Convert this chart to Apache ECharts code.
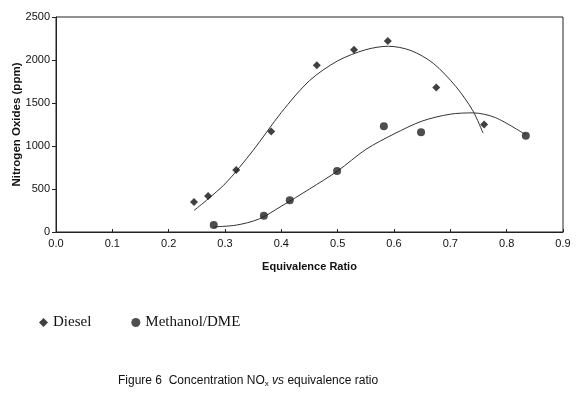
<!DOCTYPE html>
<html>
<head>
    <meta charset="utf-8"/>
    <script src="https://cdn.jsdelivr.net/npm/echarts@6/dist/echarts.min.js"></script>
</head>
<body style="margin:0;background:#fff;">
<div id="main" style="width: 580px;height:394px;"></div>
<script type="text/javascript">
    // measured points
    var dieselX = [0.245, 0.270, 0.320, 0.382, 0.463, 0.529, 0.589, 0.675, 0.760];
    var dieselY = [350, 420, 720, 1170, 1940, 2120, 2220, 1680, 1250];
    var methX = [0.280, 0.369, 0.415, 0.499, 0.582, 0.648, 0.834];
    var methY = [80, 190, 370, 710, 1230, 1160, 1120];

    // trend curves
    var dieselFitX = [0.245, 0.300, 0.350, 0.400, 0.450, 0.500, 0.550, 0.590, 0.630, 0.670, 0.710, 0.740, 0.758];
    var dieselFitY = [250, 560, 950, 1390, 1760, 1990, 2120, 2160, 2110, 1960, 1690, 1410, 1150];
    var methFitX = [0.280, 0.320, 0.360, 0.400, 0.450, 0.500, 0.550, 0.600, 0.650, 0.700, 0.740, 0.780, 0.834];
    var methFitY = [60, 80, 150, 300, 500, 710, 960, 1140, 1290, 1370, 1385, 1330, 1130];

    var xTicks = ['0.0', '0.1', '0.2', '0.3', '0.4', '0.5', '0.6', '0.7', '0.8', '0.9'];

    function pairs(xs, ys) {
        var out = [];
        for (var i = 0; i < xs.length; i++) {
            out.push([xs[i], ys[i]]);
        }
        return out;
    }

    var myChart = echarts.init(document.getElementById('main'));

    var option = {
        backgroundColor: '#fff',
        animation: false,
        textStyle: {fontFamily: 'Liberation Sans', color: '#111'},
        grid: {
            left: 56, right: 17, top: 17, bottom: 162,
            outerBoundsMode: 'none',
            containLabel: false,
            show: true, borderColor: '#222', borderWidth: 1
        },
        legend: {
            left: 34, top: 310,
            itemGap: 40,
            itemWidth: 9, itemHeight: 9,
            data: [
                {name: 'Diesel', icon: 'diamond'},
                {name: 'Methanol/DME', icon: 'circle'}
            ],
            textStyle: {fontFamily: 'Liberation Serif', fontSize: 15, color: '#111'}
        },
        title: {
            text: '{a|Figure 6  Concentration NO}{s|x}{a| }{i|vs}{a| equivalence ratio}',
            left: 113, top: 368,
            textStyle: {
                fontWeight: 'normal',
                rich: {
                    a: {fontFamily: 'Liberation Sans', fontSize: 12, fontWeight: 'normal', color: '#111'},
                    s: {fontFamily: 'Liberation Sans', fontSize: 8, fontWeight: 'normal', color: '#111', padding: [7, 0, 0, 0]},
                    i: {fontFamily: 'Liberation Sans', fontSize: 12, fontWeight: 'normal', fontStyle: 'italic', color: '#111'}
                }
            }
        },
        xAxis: {
            type: 'value',
            min: 0, max: 0.9, interval: 0.1,
            name: 'Equivalence Ratio',
            nameLocation: 'middle',
            nameGap: 29,
            nameMoveOverlap: false,
            nameTextStyle: {fontWeight: 'bold', fontSize: 11, color: '#111'},
            axisLine: {lineStyle: {color: '#222'}},
            axisTick: {inside: true, length: 3, lineStyle: {color: '#222'}},
            axisLabel: {
                fontSize: 11, color: '#111', margin: 6,
                formatter: function (v) { return xTicks[Math.round(v * 10)]; }
            },
            splitLine: {show: false}
        },
        yAxis: {
            type: 'value',
            min: 0, max: 2500, interval: 500,
            name: 'Nitrogen Oxides (ppm)',
            nameLocation: 'middle',
            nameGap: 33,
            nameMoveOverlap: false,
            nameTextStyle: {fontWeight: 'bold', fontSize: 11.5, color: '#111'},
            axisLine: {show: true, lineStyle: {color: '#222'}},
            axisTick: {show: true, length: 4, lineStyle: {color: '#222'}},
            axisLabel: {
                fontSize: 11, color: '#111', margin: 6,
                formatter: function (v) { return String(v); }
            },
            splitLine: {show: false}
        },
        series: [
            {
                name: 'Diesel',
                type: 'scatter',
                symbol: 'diamond',
                symbolSize: 8,
                itemStyle: {color: '#111'},
                data: pairs(dieselX, dieselY),
                z: 3
            },
            {
                name: 'Methanol/DME',
                type: 'scatter',
                symbol: 'circle',
                symbolSize: 8,
                itemStyle: {color: '#222'},
                data: pairs(methX, methY),
                z: 3
            },
            {
                name: 'dieselFit',
                type: 'line',
                smooth: 0.3,
                showSymbol: false,
                lineStyle: {color: '#333', width: 1},
                data: pairs(dieselFitX, dieselFitY)
            },
            {
                name: 'methFit',
                type: 'line',
                smooth: 0.3,
                showSymbol: false,
                lineStyle: {color: '#333', width: 1},
                data: pairs(methFitX, methFitY)
            }
        ]
    };

    myChart.setOption(option);
</script>
</body>
</html>
